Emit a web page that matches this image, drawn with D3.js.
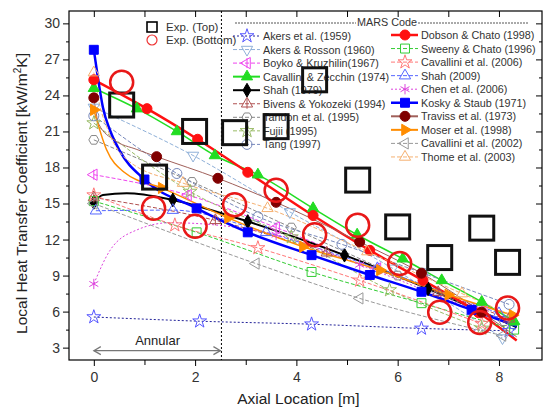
<!DOCTYPE html>
<html>
<head>
<meta charset="utf-8">
<script src="https://cdn.jsdelivr.net/npm/d3@7"></script>
<style>
  body { margin: 0; background: #fff; }
  svg { font-family: "Liberation Sans", Arial, sans-serif; }
</style>
</head>
<body>
<svg id="chart" width="543" height="413"></svg>
<script>
// Experiments
const expTop = [[0.55,23.2],[1.2,17.2],[1.99,21.0],[2.78,20.9],[3.6,21.4],[4.36,25.3],[5.21,16.95],[6.0,13.05],[6.83,10.5],[7.66,12.95],[8.17,10.1]];
const expBottom = [[0.55,25.1],[1.18,14.6],[2.0,13.1],[2.78,14.9],[3.6,16.1],[4.36,12.4],[5.21,13.2],[6.04,10.0],[6.83,5.95],[7.62,5.1],[8.17,6.3]];

// MARS code correlations (markers)
const akers1959 = [[0,5.55],[2.09,5.2],[4.3,4.95],[6.47,4.6],[8.2,4.4]];
const akersRosson = [[0,23.0],[1.96,19.0],[3.87,14.3],[5.9,9.6],[8.07,3.8]];
const boyko = [[0,17.4],[1.86,15.7],[3.6,13.0],[5.6,9.6],[7.7,6.2]];
const cavZecchin = [[0,24.6],[0.85,22.9],[1.64,21.0],[2.39,19.0],[3.24,17.4],[4.33,14.6],[5.2,12.4],[6.1,10.4],[6.87,8.6],[7.66,6.8],[8.3,5.2]];
const shah1979 = [[0,15.1],[1.56,15.3],[3.04,13.5],[4.95,10.7],[6.6,7.9]];
const shah1979Line = [[0,15.1],[0.18,15.7],[0.65,15.85],[1.56,15.3],[3.04,13.5],[4.95,10.7],[6.6,7.9],[8.35,4.7]];
const bivens = [[0,15.5],[2.4,13.6],[4.6,10.9],[6.8,7.6],[8.2,5.4]];
const tandon = [[0,20.3],[1.94,16.8],[3.9,13.0],[6.0,9.0],[8.1,5.2]];
const fujii = [[0,21.7],[1.9,16.0],[3.9,12.2],[5.84,7.8],[7.66,4.6]];
const tang = [[0,22.3],[1.64,17.5],[3.24,13.9],[4.9,11.6],[6.5,9.2],[8.2,6.6]];
const dobson = [[0,25.3],[1.05,22.9],[2.05,20.35],[3.04,17.6],[4.33,14.0],[5.45,11.1],[6.5,8.6],[7.6,5.9]];
const dobsonLine = [[0,25.3],[1.05,22.9],[2.05,20.35],[3.04,17.6],[4.33,14.0],[5.45,11.1],[6.5,8.6],[7.6,5.9],[8.35,3.6]];
const sweeny = [[0,15.2],[2.03,12.6],[4.3,9.3],[6.47,6.7],[8.3,4.5]];
const cav2006 = [[0,15.7],[1.6,13.2],[3.24,11.3],[5.25,8.6],[7.66,5.0]];
const shah2009 = [[0.04,14.4],[1.56,14.45],[3.4,12.6],[5.6,9.6],[8.0,5.85]];
const chen = [[0,8.3],[3.6,12.4],[5.25,9.9],[7.5,6.2]];
const chenLine = [[0,8.3],[0.32,11.1],[0.85,12.8],[1.5,13.4],[3.6,12.4],[5.25,9.9],[7.5,6.2],[8.3,5.0]];
const kosky = [[0,27.8],[1.0,17.0],[2.03,14.6],[3.04,12.6],[4.3,10.7],[5.45,9.05],[6.47,7.65],[7.46,6.15]];
const koskyLine = [[0,27.8],[0.08,25.5],[0.18,23.0],[0.32,21.1],[0.51,19.4],[1.0,17.0],[2.03,14.6],[3.04,12.6],[4.3,10.7],[5.45,9.05],[6.47,7.65],[7.46,6.15],[8.35,4.8]];
const traviss = [[0,23.8],[1.24,18.9],[2.45,17.1],[3.6,15.1],[5.25,11.8],[6.47,9.2],[7.66,5.95]];
const travissLine = [[0,23.8],[0.1,21.6],[0.4,20.3],[0.85,19.5],[1.24,18.9],[2.45,17.1],[3.6,15.1],[5.25,11.8],[6.47,9.2],[7.66,5.95],[8.35,3.9]];
const moser = [[0,22.8],[1.34,16.3],[2.65,13.8],[4.13,11.4],[5.65,9.45],[7.0,7.4],[8.27,5.7]];
const moserLine = [[0,22.8],[0.25,19.5],[0.6,17.6],[1.34,16.3],[2.65,13.8],[4.13,11.4],[5.65,9.45],[7.0,7.4],[8.27,5.7]];
const cav2002 = [[0,15.0],[3.2,10.0],[5.25,7.1],[8.07,4.0]];
const thome = [[0,25.9],[1.76,16.7],[3.43,14.6],[5.4,11.0],[7.27,7.5]];
const thomeLine = [[0,25.9],[0.1,23.5],[0.28,21.1],[0.7,18.5],[1.76,16.7],[3.43,14.6],[5.4,11.0],[7.27,7.5],[8.3,5.6]];

const xTicks = [0, 2, 4, 6, 8];
const yTicks = [3, 6, 9, 12, 15, 18, 21, 24, 27, 30];
const annularEnd = 2.52;

// series table: legend column 0 = left, 1 = right
const SERIES = [
  { name: 'Akers et al. (1959)', pts: akers1959, color: '#5555ff', lineColor: '#222299', sym: 'star', fill: false, dash: '2,2', w: 1, col: 0 },
  { name: 'Akers & Rosson (1960)', pts: akersRosson, color: '#8fb0d8', sym: 'triDown', fill: false, dash: '4,2', w: 1, col: 0 },
  { name: 'Boyko & Kruzhilin(1967)', pts: boyko, color: '#ee44ee', sym: 'triLeftBar', fill: false, dash: '4,2', w: 1, col: 0 },
  { name: 'Cavallini & Zecchin (1974)', pts: cavZecchin, color: '#22dd22', sym: 'triUp', fill: true, dash: null, w: 1.5, col: 0 },
  { name: 'Shah (1979)', pts: shah1979, line: shah1979Line, color: '#000000', sym: 'diamond', fill: true, dash: null, w: 2, col: 0 },
  { name: 'Bivens & Yokozeki (1994)', pts: bivens, color: '#b05050', sym: 'circleBar', fill: false, dash: '4,2', w: 1, col: 0 },
  { name: 'Tandon et al. (1995)', pts: tandon, color: '#888888', sym: 'hex', fill: false, dash: '4,2', w: 1, col: 0 },
  { name: 'Fujii (1995)', pts: fujii, color: '#99bb66', sym: 'star', fill: false, dash: '4,2', w: 1, col: 0 },
  { name: 'Tang (1997)', pts: tang, color: '#7788bb', sym: 'circle', fill: false, dash: '4,2', w: 1, col: 0 },
  { name: 'Dobson & Chato (1998)', pts: dobson, line: dobsonLine, color: '#ff1111', sym: 'circle', fill: true, dash: null, w: 2.5, col: 1 },
  { name: 'Sweeny & Chato (1996)', pts: sweeny, color: '#33cc33', sym: 'square', fill: false, dash: '4,2', w: 1, col: 1 },
  { name: 'Cavallini et al. (2006)', pts: cav2006, color: '#ff7777', sym: 'star', fill: false, dash: '4,2', w: 1, col: 1 },
  { name: 'Shah (2009)', pts: shah2009, color: '#5566ff', sym: 'triUp', fill: false, dash: '4,2', w: 1, col: 1 },
  { name: 'Chen et al. (2006)', pts: chen, line: chenLine, color: '#dd44dd', sym: 'asterisk', fill: false, dash: '2,2', w: 1, col: 1 },
  { name: 'Kosky & Staub (1971)', pts: kosky, line: koskyLine, color: '#0000ff', sym: 'square', fill: true, dash: null, w: 2.5, col: 1 },
  { name: 'Traviss et al. (1973)', pts: traviss, line: travissLine, color: '#800000', lineColor: '#a0605a', sym: 'circle', fill: true, dash: null, w: 1, col: 1 },
  { name: 'Moser et al. (1998)', pts: moser, line: moserLine, color: '#ff8c00', sym: 'triRight', fill: true, dash: null, w: 1.5, col: 1 },
  { name: 'Cavallini et al. (2002)', pts: cav2002, color: '#999999', sym: 'triLeft', fill: false, dash: '4,2', w: 1, col: 1 },
  { name: 'Thome et al. (2003)', pts: thome, line: thomeLine, color: '#f5b070', sym: 'triUp', fill: false, dash: '4,2', w: 1, col: 1 }
];

const svg = d3.select('#chart');
const frame = { left: 69, right: 542, top: 11, bottom: 360 };

const x = d3.scaleLinear().domain([-0.49, 8.85]).range([frame.left, frame.right]);
const y = d3.scaleLinear().domain([1.97, 31.03]).range([frame.bottom, frame.top]);

/**
 * Build a marker path of a given kind centred on 0,0
 */
function markerPath(kind, r) {
  const sym = (type, area) => d3.symbol(type, area)();
  switch (kind) {
    case 'circle': return sym(d3.symbolCircle, Math.PI * r * r);
    case 'square': return sym(d3.symbolSquare, 4 * r * r * 0.8);
    case 'diamond': return sym(d3.symbolDiamond, 2.2 * r * r);
    case 'star': return sym(d3.symbolStar, 2.4 * r * r);
    case 'asterisk': return sym(d3.symbolAsterisk, 3 * r * r);
    case 'hex': {
      const p = d3.range(6).map(i => [r * Math.cos(Math.PI / 3 * i), r * Math.sin(Math.PI / 3 * i)]);
      return 'M' + p.join('L') + 'Z';
    }
    default: return sym(d3.symbolTriangle, 2.2 * r * r);
  }
}

function drawMarker(g, s, px, py, r) {
  const rot = { triDown: 180, triLeft: -90, triLeftBar: -90, triRight: 90 }[s.sym] || 0;
  const m = g.append('g').attr('transform', `translate(${px},${py}) rotate(${rot})`);
  m.append('path')
    .attr('d', markerPath(s.sym, r))
    .attr('fill', s.fill ? s.color : 'none')
    .attr('stroke', s.color)
    .attr('stroke-width', 1);
  if (s.sym === 'circleBar' || s.sym === 'triLeftBar') {
    m.append('line')
      .attr('x1', s.sym === 'circleBar' ? 0 : -r).attr('x2', s.sym === 'circleBar' ? 0 : r)
      .attr('y1', s.sym === 'circleBar' ? -r : 0).attr('y2', s.sym === 'circleBar' ? r : 0)
      .attr('stroke', s.color).attr('stroke-width', 1);
  }
}

// axes
const yMinor = d3.range(4.5, 30, 3);
const xMinor = [1, 3, 5, 7];

svg.append('g')
  .attr('transform', `translate(${frame.left},0)`)
  .call(d3.axisLeft(y).tickValues(yTicks).tickSize(6).tickPadding(3))
  .call(g => g.select('.domain').remove())
  .call(g => g.selectAll('text').attr('font-size', 14).attr('fill', '#333').style('font-family', '"Liberation Sans", Arial, sans-serif'));
svg.append('g')
  .attr('transform', `translate(${frame.left},0)`)
  .call(d3.axisLeft(y).tickValues(yMinor).tickSize(3).tickFormat(''))
  .call(g => g.select('.domain').remove());

svg.append('g')
  .attr('transform', `translate(0,${frame.bottom})`)
  .call(d3.axisBottom(x).tickValues(xTicks).tickSize(6).tickPadding(6))
  .call(g => g.select('.domain').remove())
  .call(g => g.selectAll('text').attr('font-size', 14).attr('fill', '#333').style('font-family', '"Liberation Sans", Arial, sans-serif'));
svg.append('g')
  .attr('transform', `translate(0,${frame.bottom})`)
  .call(d3.axisBottom(x).tickValues(xMinor).tickSize(5).tickFormat(''))
  .call(g => g.select('.domain').remove());

// top and right inner ticks
svg.append('g')
  .attr('transform', `translate(0,${frame.top})`)
  .call(d3.axisBottom(x).tickValues(d3.range(0, 9)).tickSize(6).tickFormat(''))
  .call(g => g.select('.domain').remove());
svg.append('g')
  .attr('transform', `translate(${frame.right},0)`)
  .call(d3.axisLeft(y).tickValues(yTicks).tickSize(6).tickFormat(''))
  .call(g => g.select('.domain').remove());
svg.append('g')
  .attr('transform', `translate(${frame.right},0)`)
  .call(d3.axisLeft(y).tickValues(yMinor).tickSize(3).tickFormat(''))
  .call(g => g.select('.domain').remove());

svg.append('rect')
  .attr('x', frame.left).attr('y', frame.top)
  .attr('width', frame.right - frame.left).attr('height', frame.bottom - frame.top)
  .attr('fill', 'none').attr('stroke', '#000').attr('stroke-width', 1.2);

// axis titles
svg.append('text')
  .attr('x', (x(0) + x(8)) / 2 + 2).attr('y', 404)
  .attr('text-anchor', 'middle').attr('font-size', 15.5).attr('fill', '#222')
  .text('Axial Location [m]');

const yTitle = svg.append('text')
  .attr('transform', `translate(27,${(frame.top + frame.bottom) / 2 + 8}) rotate(-90)`)
  .attr('text-anchor', 'middle').attr('font-size', 15.5).attr('fill', '#222');
yTitle.append('tspan').text('Local Heat Transfer Coefficient [kW/m');
yTitle.append('tspan').attr('font-size', 10).attr('dy', -6).text('2');
yTitle.append('tspan').attr('dy', 6).text('K]');

// annular region
svg.append('line')
  .attr('x1', x(annularEnd)).attr('x2', x(annularEnd))
  .attr('y1', frame.top).attr('y2', frame.bottom)
  .attr('stroke', '#000').attr('stroke-width', 1).attr('stroke-dasharray', '2,2');

const arrowY = y(2.75);
svg.append('line')
  .attr('x1', x(0)).attr('x2', x(annularEnd) - 1)
  .attr('y1', arrowY).attr('y2', arrowY)
  .attr('stroke', '#777').attr('stroke-width', 1.2);
[[x(0), 1], [x(annularEnd) - 1, -1]].forEach(([ax, dir]) => {
  svg.append('path')
    .attr('d', `M${ax + dir * 7},${arrowY - 4}L${ax},${arrowY}L${ax + dir * 7},${arrowY + 4}`)
    .attr('fill', 'none').attr('stroke', '#777').attr('stroke-width', 1.2);
});
svg.append('text')
  .attr('x', (x(0) + x(annularEnd)) / 2).attr('y', arrowY - 6)
  .attr('text-anchor', 'middle').attr('font-size', 13).attr('fill', '#222')
  .text('Annular');

// legend
const legend = svg.append('g').attr('font-size', 11.5).attr('fill', '#333');

[['Exp. (Top)', 'sq', 27], ['Exp. (Bottom)', 'ci', 40]].forEach(([label, kind, ly]) => {
  if (kind === 'sq') {
    legend.append('rect').attr('x', 147).attr('y', ly - 5).attr('width', 10).attr('height', 10)
      .attr('fill', 'none').attr('stroke', '#000').attr('stroke-width', 1.6);
  } else {
    legend.append('circle').attr('cx', 152).attr('cy', ly).attr('r', 5)
      .attr('fill', 'none').attr('stroke', '#e33').attr('stroke-width', 1.2);
  }
  legend.append('text').attr('x', 166).attr('y', ly + 4).text(label);
});

const mars = legend.append('g').attr('font-size', 10.8);
mars.append('text').attr('x', 387).attr('y', 26).attr('text-anchor', 'middle').text('MARS Code');
mars.append('line').attr('x1', 235).attr('x2', 356).attr('y1', 23).attr('y2', 23)
  .attr('stroke', '#555').attr('stroke-dasharray', '2,1');
mars.append('line').attr('x1', 418).attr('x2', 528).attr('y1', 23).attr('y2', 23)
  .attr('stroke', '#555').attr('stroke-dasharray', '2,1');

const colPos = [{ sx: 247, tx: 263, y0: 36 }, { sx: 405, tx: 421, y0: 35 }];
const colCount = [0, 0];
SERIES.forEach(s => {
  const c = colPos[s.col];
  const ly = c.y0 + colCount[s.col]++ * 13.55;
  mars.append('line')
    .attr('x1', c.sx - 14).attr('x2', c.sx + 13).attr('y1', ly).attr('y2', ly)
    .attr('stroke', s.lineColor || s.color).attr('stroke-width', s.dash ? 1 : Math.max(s.w, 2))
    .attr('stroke-dasharray', s.dash);
  drawMarker(mars, s, c.sx, ly, 5);
  mars.append('text').attr('x', c.tx).attr('y', ly + 4).text(s.name);
});

// model curves
const line = d3.line().x(d => x(d[0])).y(d => y(d[1])).curve(d3.curveMonotoneX);
const plot = svg.append('g');

SERIES.forEach(s => {
  plot.append('path')
    .attr('d', line(s.line || s.pts))
    .attr('fill', 'none')
    .attr('stroke', s.lineColor || s.color)
    .attr('stroke-width', s.w)
    .attr('stroke-dasharray', s.dash);
});
SERIES.forEach(s => {
  s.pts.forEach(d => drawMarker(plot, s, x(d[0]), y(d[1]), 5));
});

// experimental data on top
plot.selectAll('.exp-top').data(expTop).join('rect')
  .attr('class', 'exp-top')
  .attr('x', d => x(d[0]) - 12).attr('y', d => y(d[1]) - 12)
  .attr('width', 24).attr('height', 24)
  .attr('fill', 'none').attr('stroke', '#111').attr('stroke-width', 3);

plot.selectAll('.exp-bottom').data(expBottom).join('circle')
  .attr('class', 'exp-bottom')
  .attr('cx', d => x(d[0])).attr('cy', d => y(d[1])).attr('r', 11.5)
  .attr('fill', 'none').attr('stroke', '#e81818').attr('stroke-width', 2.5);
</script>
</body>
</html>
